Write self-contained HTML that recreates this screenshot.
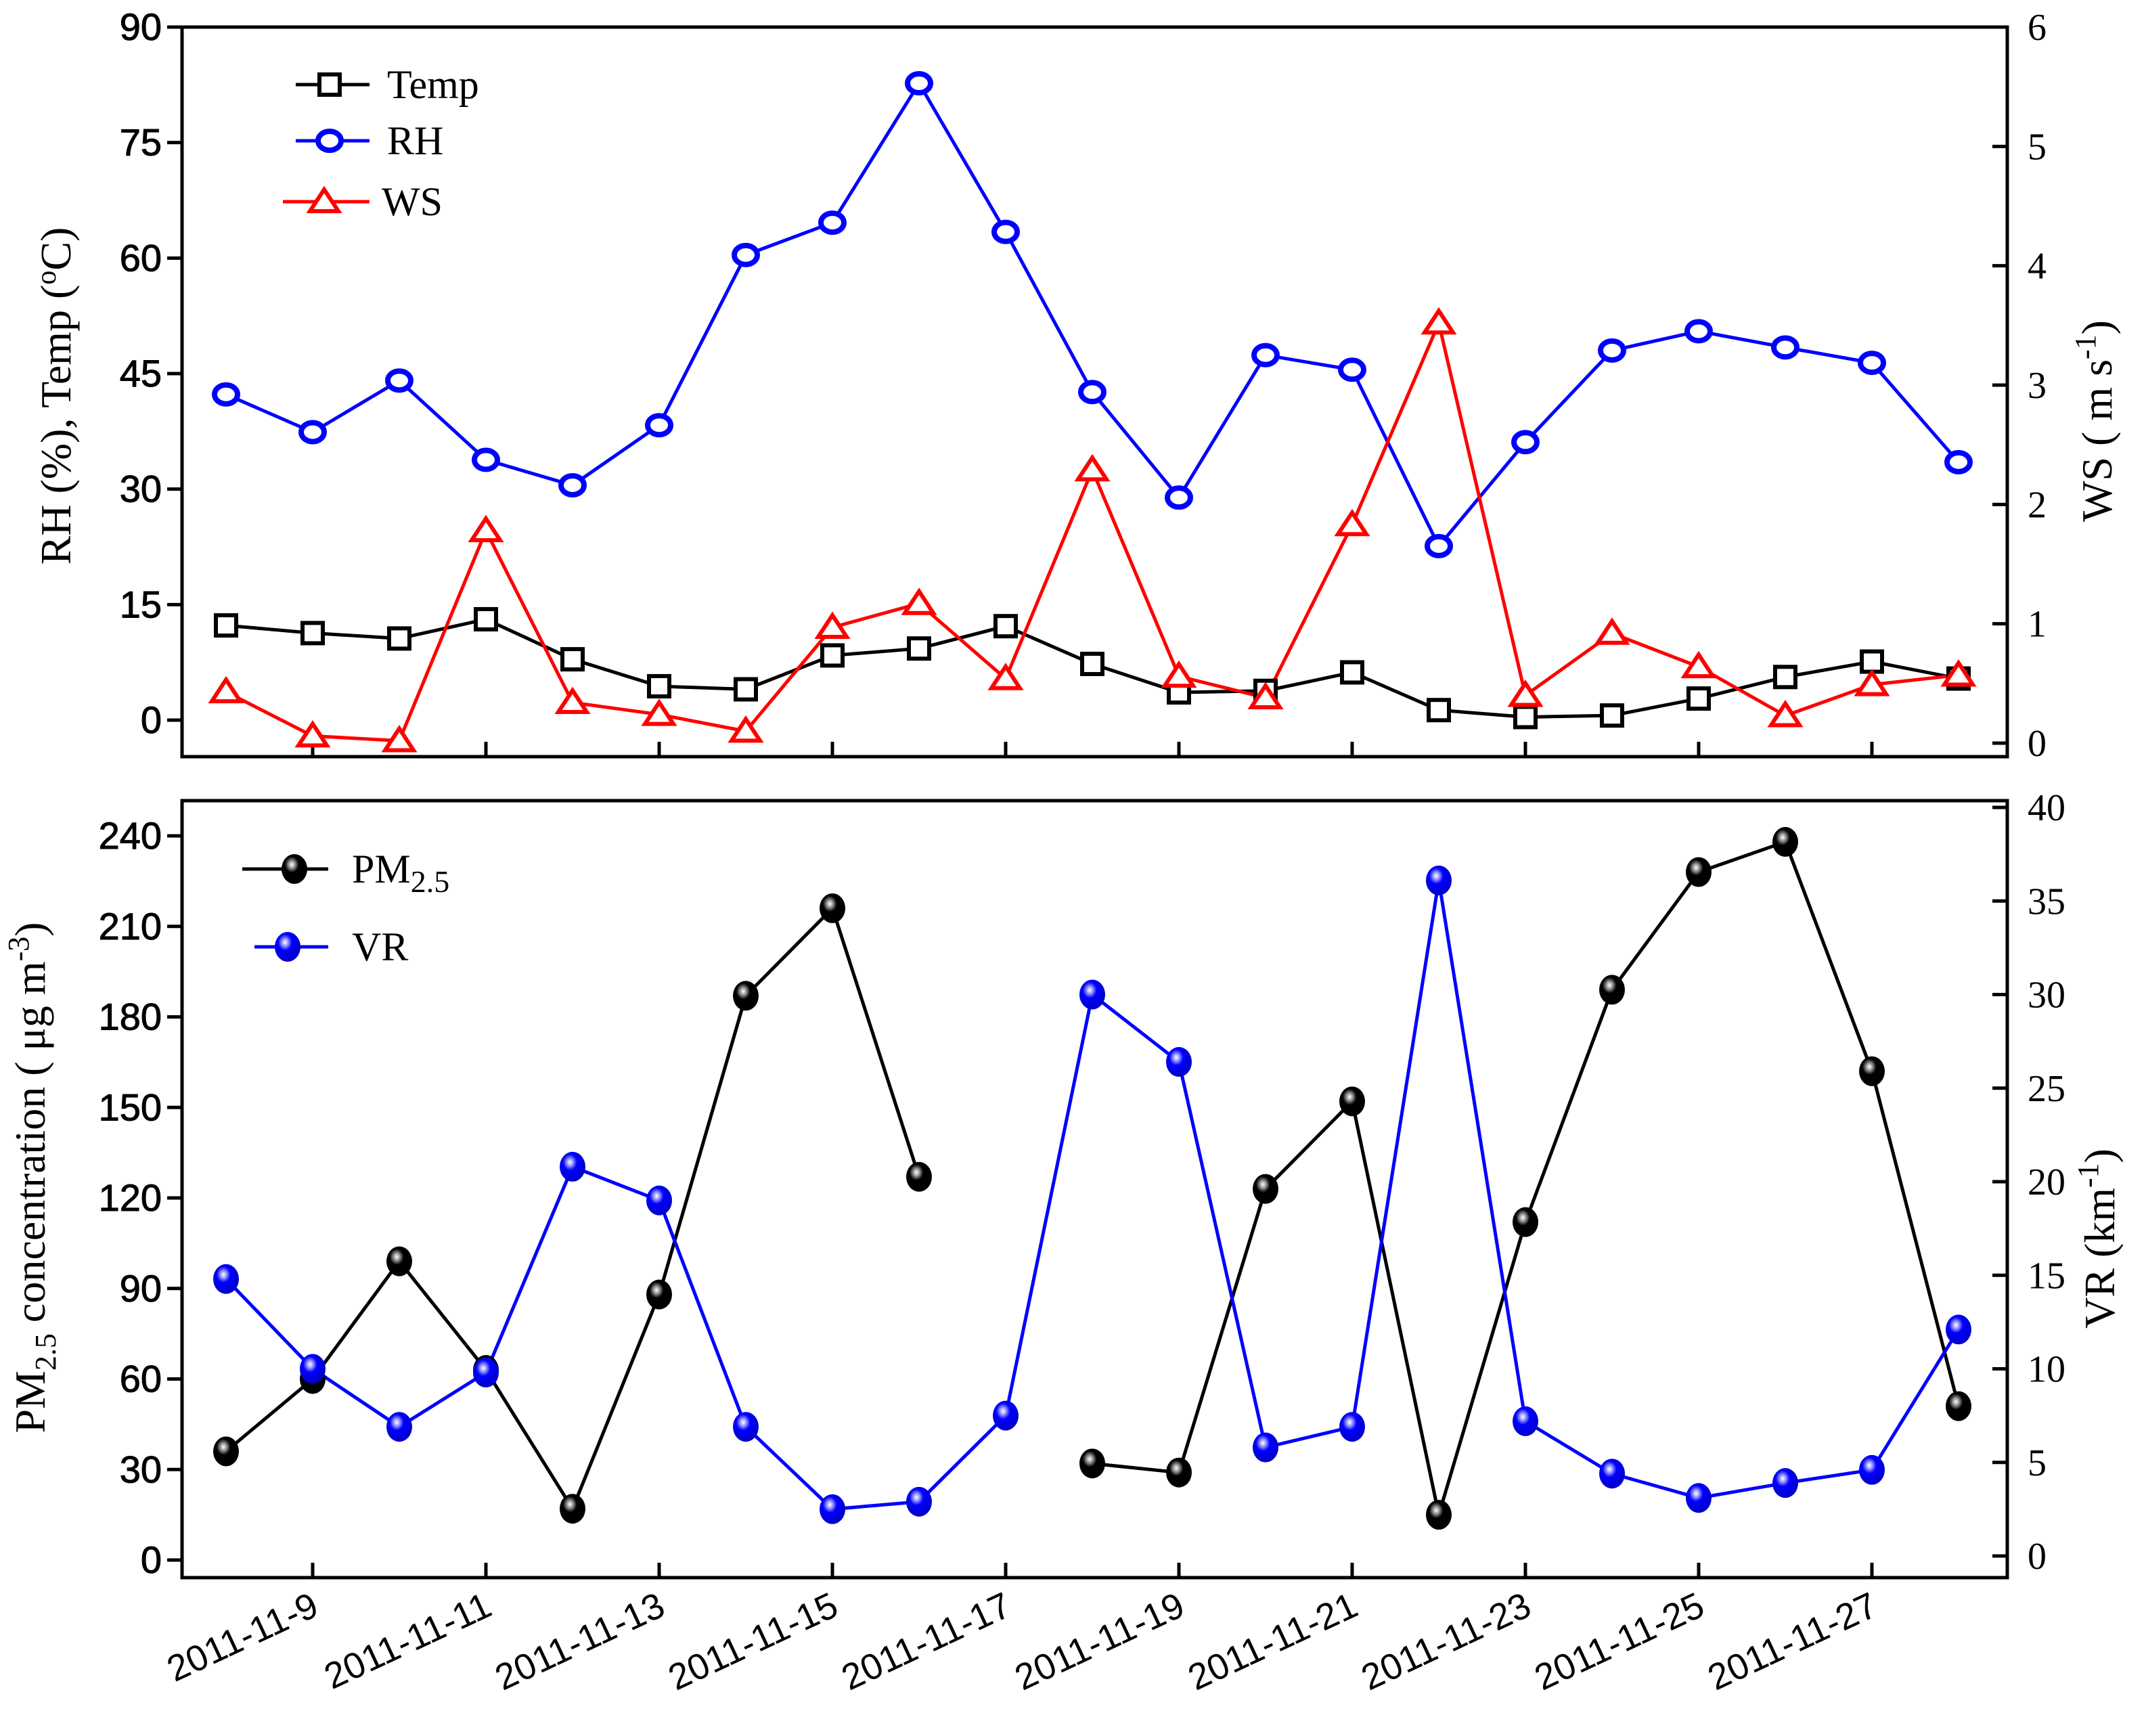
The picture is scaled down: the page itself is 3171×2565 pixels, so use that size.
<!DOCTYPE html>
<html><head><meta charset="utf-8"><style>
html,body{margin:0;padding:0;background:#fff;width:3171px;height:2565px;overflow:hidden}
svg text{font-family:"Liberation Sans",sans-serif}
</style></head><body>
<svg id="chart" width="3171" height="2565" viewBox="0 0 3171 2565" xmlns="http://www.w3.org/2000/svg">
<defs>
<radialGradient id="gBlack" cx="0.4" cy="0.35" r="0.6"><stop offset="0" stop-color="#fff"/><stop offset="0.2" stop-color="#999"/><stop offset="0.45" stop-color="#000"/><stop offset="1" stop-color="#000"/></radialGradient>
<radialGradient id="gBlue" cx="0.4" cy="0.35" r="0.6"><stop offset="0" stop-color="#fff"/><stop offset="0.2" stop-color="#9999ff"/><stop offset="0.45" stop-color="#0000ff"/><stop offset="1" stop-color="#0000cc"/></radialGradient>
</defs>
</svg>
<script>
const dates = ["2011-11-8","2011-11-9","2011-11-10","2011-11-11","2011-11-12","2011-11-13","2011-11-14","2011-11-15","2011-11-16","2011-11-17","2011-11-18","2011-11-19","2011-11-20","2011-11-21","2011-11-22","2011-11-23","2011-11-24","2011-11-25","2011-11-26","2011-11-27","2011-11-28"];
const tempVals = [12.3,11.3,10.6,13.1,7.9,4.4,4.0,8.4,9.3,12.2,7.3,3.6,3.8,6.2,1.3,0.4,0.6,2.8,5.6,7.6,5.4];
const rhVals = [42.3,37.4,44.1,33.8,30.5,38.3,60.4,64.6,82.7,63.4,42.6,28.9,47.4,45.5,22.6,36.1,48.0,50.5,48.4,46.4,33.5];
const wsVals = [0.43,0.06,0.02,1.78,0.34,0.24,0.1,0.97,1.17,0.54,2.29,0.56,0.38,1.83,3.52,0.40,0.92,0.64,0.23,0.49,0.57];
const pmVals = [36,60,99,63,17,88,187,216,127,null,32,29,123,152,15,112,189,228,238,162,51];
const vrVals = [14.8,10.0,6.9,9.8,20.8,19.0,6.9,2.5,2.9,7.5,30.0,26.4,5.8,6.9,36.1,7.2,4.4,3.1,3.9,4.6,12.1];
const leftTopTicks = [0,15,30,45,60,75,90];
const wsTicks = [0,1,2,3,4,5,6];
const pmTicks = [0,30,60,90,120,150,180,210,240];
const vrTicks = [0,5,10,15,20,25,30,35,40];
const xLabelIdx = [1,3,5,7,9,11,13,15,17,19];

const NS="http://www.w3.org/2000/svg";
const svg=document.getElementById('chart');
function el(tag,attrs,parent){const e=document.createElementNS(NS,tag);for(const k in attrs)e.setAttribute(k,attrs[k]);(parent||svg).appendChild(e);return e;}
const X0=269,X1=2966;
const xScale=i=>334+i*128;
const yTemp=v=>1064-v*(1064-40)/90;
const yWS=v=>1098-v*(1098-40)/6;
const yPM=v=>2305-v*(2305-1235)/240;
const yVR=v=>2299-v*(2299-1193)/40;

const f1=el('rect',{x:X0,y:40,width:X1-X0,height:1078,fill:'none',stroke:'#000','stroke-width':5});

const f2=el('rect',{x:X0,y:1183,width:X1-X0,height:1148,fill:'none',stroke:'#000','stroke-width':5});


function yAxis(ticks,scale,side,name){
  const g=el('g',{});
  
  
  ticks.forEach(t=>{
    const y=scale(t);
    if(side==='left'){
      el('line',{x1:X0-22,x2:X0,y1:y,y2:y,stroke:'#000','stroke-width':5},g);
      const tx=el('text',{x:X0-30,y:y+19,'text-anchor':'end','font-size':56,'stroke':'#000','stroke-width':1},g);tx.textContent=t;
    }else{
      el('line',{x1:X1-22,x2:X1,y1:y,y2:y,stroke:'#000','stroke-width':5},g);
      const tx=el('text',{x:X1+30,y:y+19,'text-anchor':'start','font-size':56,style:'font-family:"Liberation Serif",serif'},g);tx.textContent=t;
    }
  });
}
yAxis(leftTopTicks,yTemp,'left','left-axis-rh-temp');
yAxis(wsTicks,yWS,'right','right-axis-ws');
yAxis(pmTicks,yPM,'left','left-axis-pm25');
yAxis(vrTicks,yVR,'right','right-axis-vr');

const xg=el('g',{});


xLabelIdx.forEach(i=>{
  const x=xScale(i);
  el('line',{x1:x,x2:x,y1:1118,y2:1096,stroke:'#000','stroke-width':5},xg);
  el('line',{x1:x,x2:x,y1:2331,y2:2309,stroke:'#000','stroke-width':5},xg);
  const t=el('text',{x:x+12,y:2385,'text-anchor':'end','font-size':54,transform:`rotate(-25 ${x+12} 2385)`},xg);
  t.textContent=dates[i];
});

function series(vals,xf,yf,color,name){
  const g=el('g',{});
  
  
  let seg=[];
  const flush=()=>{if(seg.length>1)el('polyline',{points:seg.join(' '),fill:'none',stroke:color,'stroke-width':5},g);seg=[];};
  vals.forEach((v,i)=>{if(v===null){flush();return;}seg.push(xf(i)+','+yf(v));});
  flush();
}
function markers(vals,yf,kind,name){
  const g=el('g',{});
  
  
  vals.forEach((v,i)=>{if(v===null)return;drawMarker(g,kind,xScale(i),yf(v));});
}
function drawMarker(g,kind,x,y){
  if(kind==='sq')el('rect',{x:x-15,y:y-15,width:30,height:30,fill:'#fff',stroke:'#000','stroke-width':6},g);
  else if(kind==='circ')el('ellipse',{cx:x,cy:y,rx:17,ry:14,fill:'#fff',stroke:'#0000ff','stroke-width':8},g);
  else if(kind==='tri')el('polygon',{points:`${x},${y-18} ${x+21},${y+14} ${x-21},${y+14}`,fill:'#fff',stroke:'#ff0000','stroke-width':6},g);
  else if(kind==='bk')el('ellipse',{cx:x,cy:y,rx:19,ry:22,fill:'url(#gBlack)'},g);
  else if(kind==='bl')el('ellipse',{cx:x,cy:y,rx:19,ry:22,fill:'url(#gBlue)'},g);
}
series(tempVals,xScale,yTemp,'#000','temp');
series(rhVals,xScale,yTemp,'#0000ff','rh');
series(wsVals,xScale,yWS,'#ff0000','ws');
markers(tempVals,yTemp,'sq','temp');
markers(rhVals,yTemp,'circ','rh');
markers(wsVals,yWS,'tri','ws');
series(pmVals,xScale,yPM,'#000','pm25');
series(vrVals,xScale,yVR,'#0000ff','vr');
markers(pmVals,yPM,'bk','pm25');
markers(vrVals,yVR,'bl','vr');

function legend(y,x1,x2,mx,color,kind,label,tx,name,sub){
  const g=el('g',{});
  
  
  el('line',{x1:x1,x2:x2,y1:y,y2:y,stroke:color,'stroke-width':5},g);
  drawMarker(g,kind,mx,y);
  const t=el('text',{x:tx,y:y+20,'font-size':60,style:'font-family:"Liberation Serif",serif'},g);
  t.textContent=label;
  if(sub){const s=el('tspan',{'font-size':46,dy:14},t);s.textContent=sub;}
}
legend(125,437,546,487,'#000','sq','Temp',572,'legend-temp');
legend(208,437,546,487,'#0000ff','circ','RH',572,'legend-rh');
legend(298,418,546,479,'#ff0000','tri','WS',564,'legend-ws');
legend(1284,358,485,435,'#000','bk','PM',520,'legend-pm25','2.5');
legend(1399,376,485,425,'#0000ff','bl','VR',520,'legend-vr');

function title(x,y,html,name){
  const t=el('text',{x:x,y:y,'text-anchor':'middle','font-size':64,transform:`rotate(-90 ${x} ${y})`,style:'font-family:"Liberation Serif",serif'});
  
  
  t.innerHTML=html;
}
title(104,585,'RH (%), Temp (<tspan dy="-22" font-size="42">o</tspan><tspan dy="22">C)</tspan>','y-axis-title-rh-temp');
title(3120,622,'WS ( m s<tspan dy="-24" font-size="44">-1</tspan><tspan dy="24">)</tspan>','y-axis-title-ws');
title(66,1740,'PM<tspan dy="16" font-size="44">2.5</tspan><tspan dy="-16"> concentration ( μg m</tspan><tspan dy="-24" font-size="44">-3</tspan><tspan dy="24">)</tspan>','y-axis-title-pm25');
title(3124,1830,'VR (km<tspan dy="-24" font-size="44">-1</tspan><tspan dy="24">)</tspan>','y-axis-title-vr');
</script>
</body></html>
